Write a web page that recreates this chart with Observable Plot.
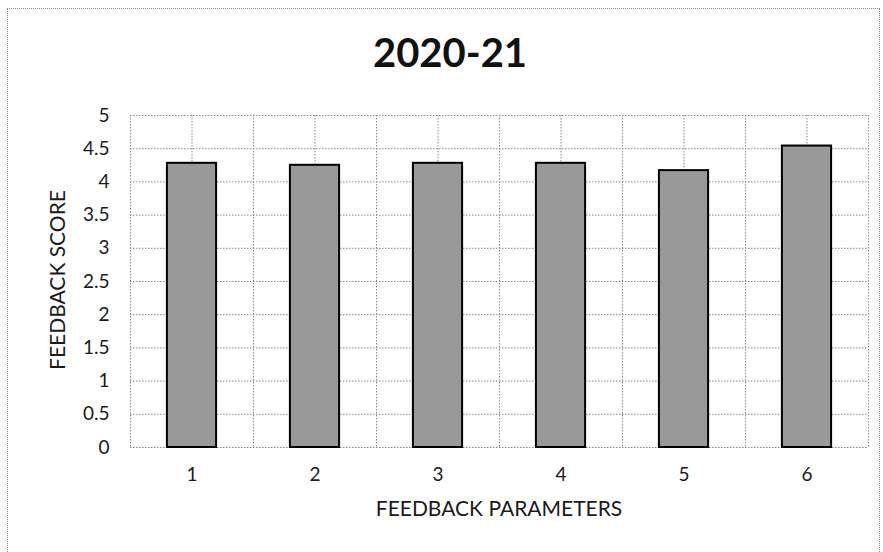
<!DOCTYPE html>
<html>
<head>
<meta charset="utf-8">
<script src="https://cdn.jsdelivr.net/npm/d3@7"></script>
<script src="https://cdn.jsdelivr.net/npm/@observablehq/plot@0.6"></script>
<style>
  html, body { margin: 0; padding: 0; background: #fff; }
  #wrap { position: relative; width: 883px; height: 552px; overflow: hidden; font-family: Lato, "Open Sans", sans-serif; color: #1a1a1a; }
  #frame { position: absolute; left: 7px; top: 8px; width: 873px; height: 560px; border: 1px dotted #888; box-sizing: border-box; }
  #title { position: absolute; left: 0; top: 32px; width: 900px; text-align: center; font-weight: 700; font-size: 40px; line-height: 40px; color: #111; }
  #ylabel { position: absolute; left: -93px; top: 269px; width: 300px; height: 22px; line-height: 22px; text-align: center; font-size: 21px; transform: rotate(-90deg); }
  #xlabel { position: absolute; left: 349px; top: 497px; width: 300px; line-height: 22px; text-align: center; font-size: 21px; }
  #chart { position: absolute; left: 0; top: 0; }
</style>
</head>
<body>
<div id="wrap">
  <div id="frame"></div>
  <div id="chart"></div>
  <div id="title">2020-21</div>
  <div id="ylabel">FEEDBACK SCORE</div>
  <div id="xlabel">FEEDBACK PARAMETERS</div>
</div>
<script>
const categories = [1, 2, 3, 4, 5, 6];
const scores = [4.28, 4.25, 4.28, 4.28, 4.17, 4.54];
const yTicks = [0, 0.5, 1, 1.5, 2, 2.5, 3, 3.5, 4, 4.5, 5];
const yTickLabels = ["0", "0.5", "1", "1.5", "2", "2.5", "3", "3.5", "4", "4.5", "5"];

const data = categories.map((c, i) => ({ param: c, score: scores[i] }));
const xGrid = d3.range(0, categories.length * 2 + 1).map(i => 0.5 + i * 0.5);
const halfWidth = 0.2;

const plot = Plot.plot({
  width: 883,
  height: 552,
  marginLeft: 130,
  marginRight: 15,
  marginTop: 115,
  marginBottom: 105,
  style: { fontFamily: "Lato, 'Open Sans', sans-serif", fontSize: "19px", color: "#1a1a1a", background: "transparent" },
  x: { domain: [0.5, categories.length + 0.5] },
  y: { domain: [0, 5] },
  marks: [
    Plot.ruleY(yTicks, { stroke: "#888", strokeWidth: 1, strokeDasharray: "1.5,1.5" }),
    Plot.ruleX(xGrid, { stroke: "#888", strokeWidth: 1, strokeDasharray: "1.5,1.5" }),
    Plot.rectY(data, {
      x1: d => d.param - halfWidth,
      x2: d => d.param + halfWidth,
      y1: 0,
      y2: "score",
      fill: "#999999",
      stroke: "#000",
      strokeWidth: 2
    }),
    Plot.axisY(yTicks, {
      tickSize: 0,
      tickPadding: 21,
      tickFormat: (d, i) => yTickLabels[i],
      label: null,
      fontSize: 19
    }),
    Plot.axisX(categories, {
      tickSize: 0,
      tickPadding: 20,
      tickFormat: d => String(d),
      label: null,
      fontSize: 19
    })
  ]
});
document.getElementById("chart").appendChild(plot);
</script>
</body>
</html>
